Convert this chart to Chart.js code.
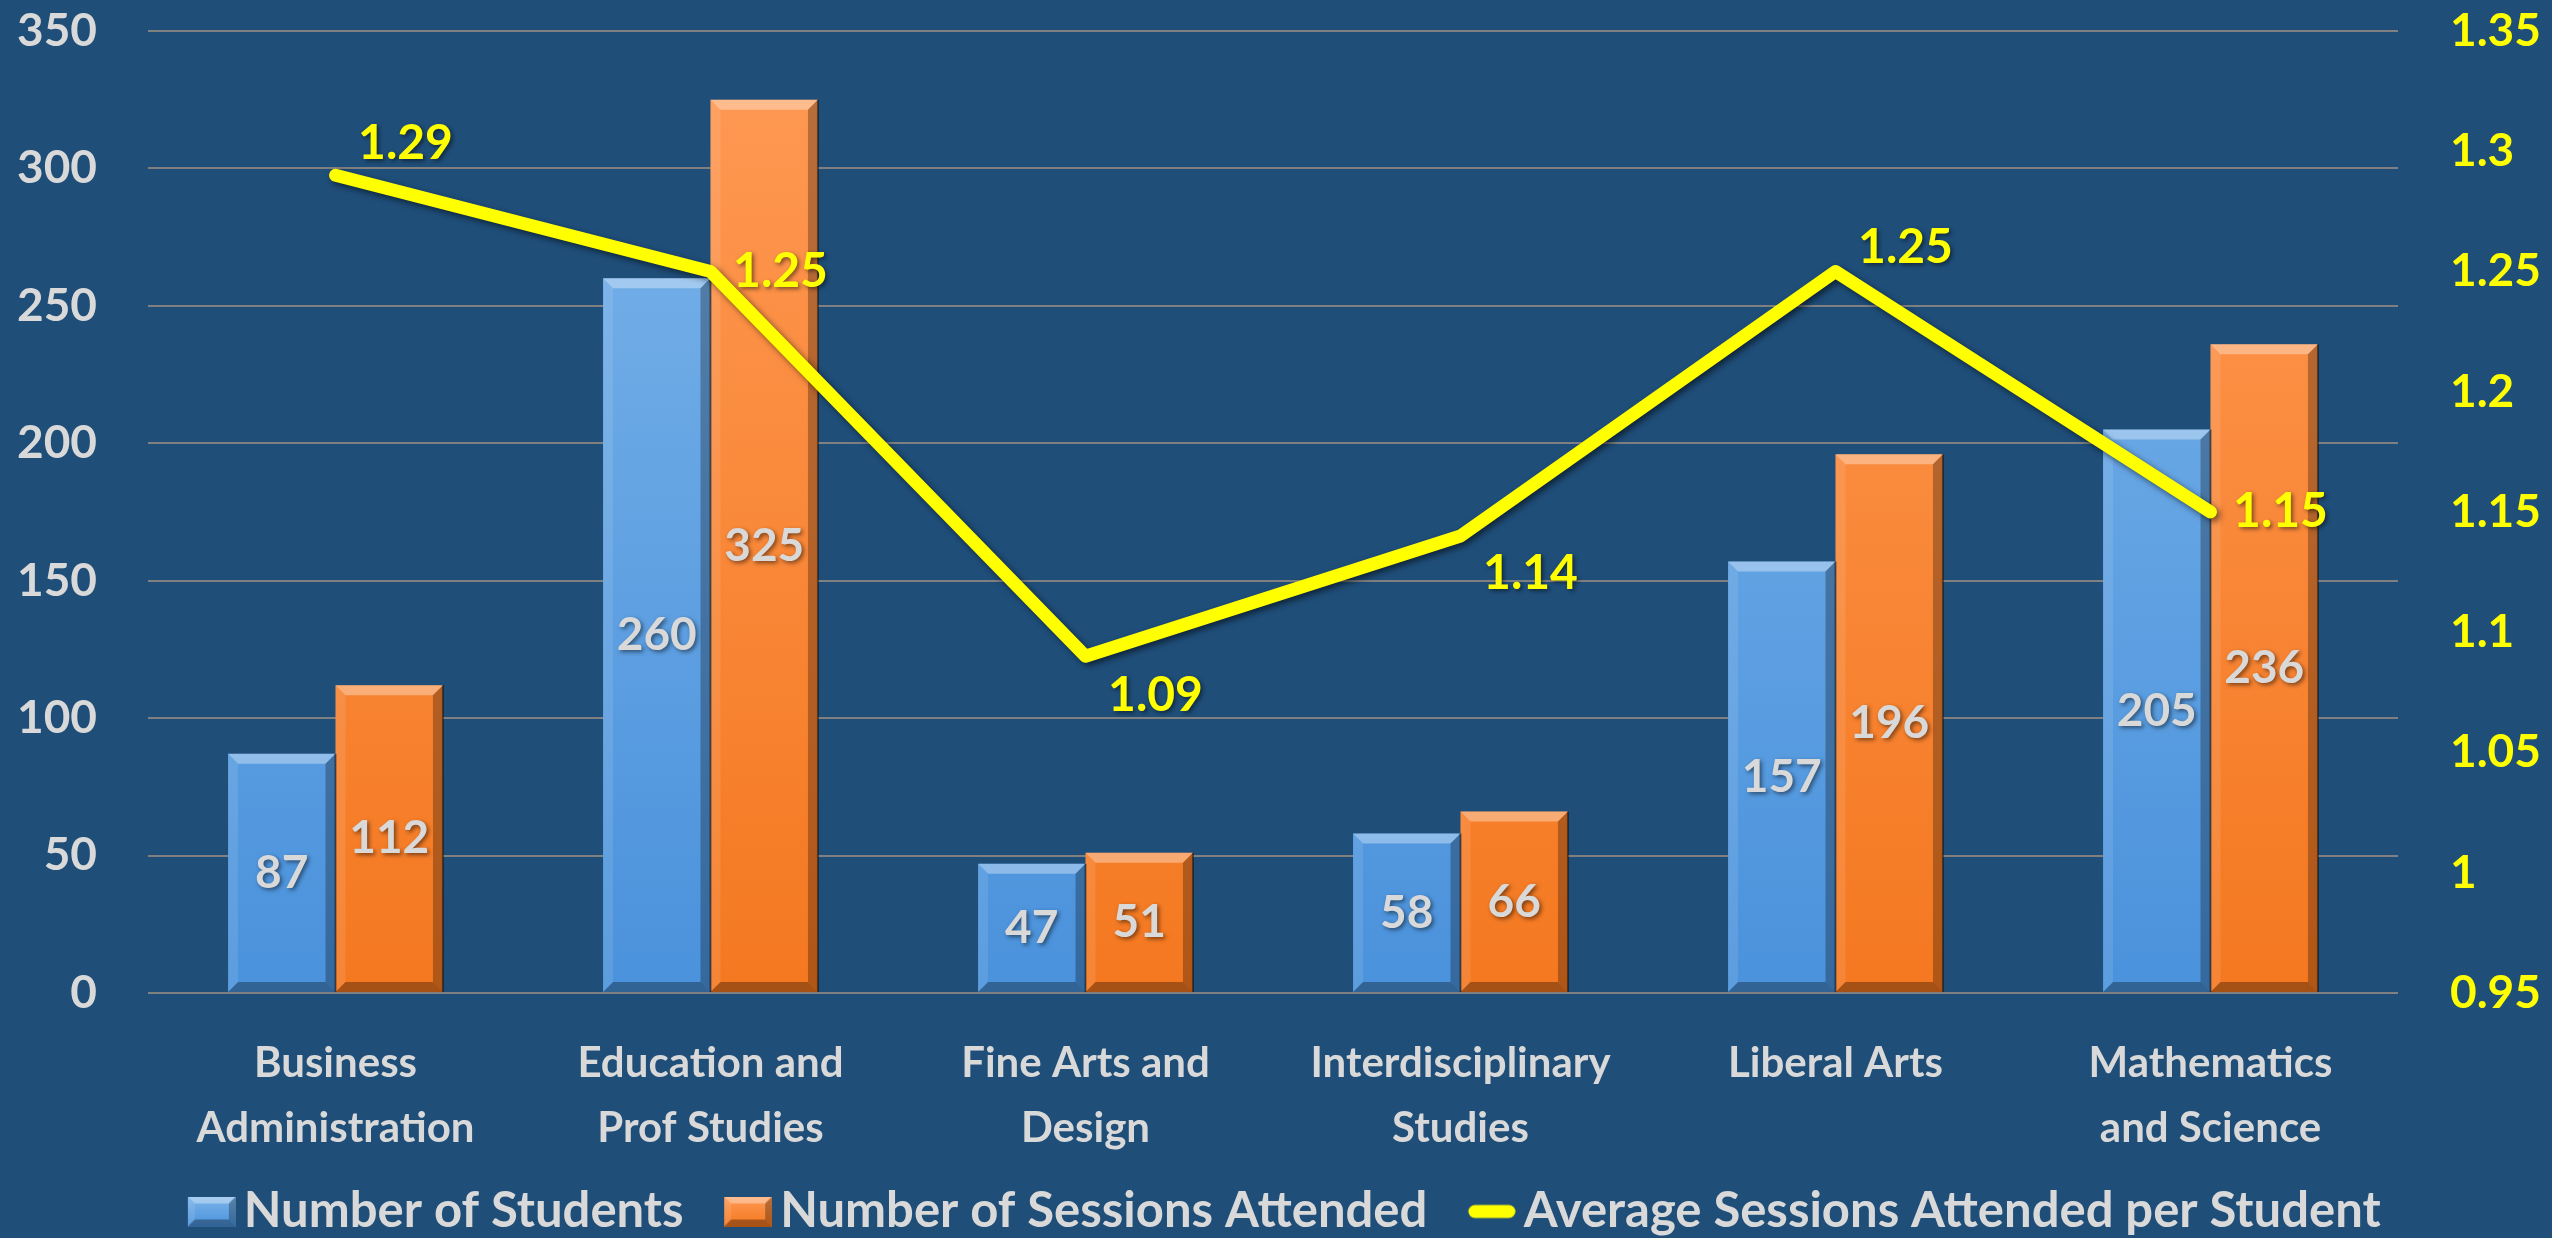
<!DOCTYPE html>
<html>
<head>
<meta charset="utf-8">
<script src="https://cdn.jsdelivr.net/npm/chart.js@4.4.0/dist/chart.umd.min.js"></script>
<style>
  html, body { margin: 0; padding: 0; background: #1F4E79; }
  #wrap { width: 2552px; height: 1238px; position: relative; }
</style>
</head>
<body>
<div id="wrap"><canvas id="grafico"></canvas></div>
<script>
// Datos del grafico
const categorias = [
  ["Business", "Administration"],
  ["Education and", "Prof Studies"],
  ["Fine Arts and", "Design"],
  ["Interdisciplinary", "Studies"],
  ["Liberal Arts"],
  ["Mathematics", "and Science"],
];
const estudiantes = [87, 260, 47, 58, 157, 205];
const sesiones = [112, 325, 51, 66, 196, 236];
const promedio = [1.29, 1.25, 1.09, 1.14, 1.25, 1.15];
const nombresSeries = [
  "Number of Students",
  "Number of Sessions Attended",
  "Average Sessions Attended per Student",
];

// Desplazamiento vertical de las etiquetas amarillas (px)
const desplazLinea = [-32, 0, 39, 37, -24, 0];

const FUENTE = "Lato";
const GRIS = "#D9D9D9";
const AMARILLO = "#FFFF00";
const TAM_LEYENDA = 49;

function degradado(ctx, arriba, abajo) {
  const area = ctx.chart.chartArea;
  if (!area) return abajo;
  const g = ctx.chart.ctx.createLinearGradient(0, area.top, 0, area.bottom);
  g.addColorStop(0, arriba);
  g.addColorStop(1, abajo);
  return g;
}

function bisel(c, l, t, r, bo, b) {
  const poly = (pts, color) => {
    c.beginPath();
    c.moveTo(pts[0][0], pts[0][1]);
    pts.slice(1).forEach((p) => c.lineTo(p[0], p[1]));
    c.closePath();
    c.fillStyle = color;
    c.fill();
  };
  poly([[l, t], [r, t], [r - b, t + b], [l + b, t + b]], "rgba(255,255,255,0.35)");
  poly([[l, t], [l + b, t + b], [l + b, bo - b], [l, bo]], "rgba(255,255,255,0.10)");
  poly([[r, t], [r, bo], [r - b, bo - b], [r - b, t + b]], "rgba(0,0,0,0.28)");
  poly([[l, bo], [r, bo], [r - b, bo - b], [l + b, bo - b]], "rgba(0,0,0,0.32)");
}

// Iconos de la leyenda (caja visible pegada al texto)
const ANCHO_CAJA = 48, HUECO = 8;
function icono(tipo) {
  const cv = document.createElement("canvas");
  cv.width = ANCHO_CAJA + TAM_LEYENDA - 2 * HUECO;
  cv.height = 30;
  const c = cv.getContext("2d");
  const x0 = cv.width - ANCHO_CAJA;
  if (tipo === "linea") {
    c.strokeStyle = AMARILLO;
    c.lineWidth = 13;
    c.lineCap = "round";
    c.beginPath();
    c.moveTo(x0 + 7, 15);
    c.lineTo(cv.width - 7, 15);
    c.stroke();
  } else {
    const g = c.createLinearGradient(0, 0, 0, 30);
    g.addColorStop(0, tipo === "azul" ? "#7DB5EA" : "#FF9A55");
    g.addColorStop(1, tipo === "azul" ? "#4A92DC" : "#F47820");
    c.fillStyle = g;
    c.fillRect(x0, 0, ANCHO_CAJA, 30);
    bisel(c, x0, 0, cv.width, 30, 7);
  }
  return cv;
}
const iconos = [icono("azul"), icono("naranja"), icono("linea")];

// Bisel de las barras + sombra de la linea
const biselPlugin = {
  id: "bisel",
  beforeDatasetDraw(chart, args) {
    if (args.meta.type === "line") {
      const c = chart.ctx;
      c.save();
      c.shadowColor = "rgba(0,0,0,0.55)";
      c.shadowBlur = 6;
      c.shadowOffsetX = 3;
      c.shadowOffsetY = 3;
    }
  },
  afterDatasetDraw(chart, args) {
    const c = chart.ctx;
    if (args.meta.type === "line") {
      c.restore();
      return;
    }
    args.meta.data.forEach((el) => {
      const { x, y, base, width } = el.getProps(["x", "y", "base", "width"], true);
      const l = x - width / 2, r = x + width / 2;
      c.save();
      bisel(c, l, y, r, base, 10);
      c.strokeStyle = "rgba(0,0,0,0.45)";
      c.lineWidth = 2;
      c.beginPath();
      c.moveTo(r, y);
      c.lineTo(r, base);
      c.stroke();
      c.restore();
    });
  },
};

// Etiquetas de datos
const etiquetasPlugin = {
  id: "etiquetas",
  afterDraw(chart) {
    const c = chart.ctx;
    c.save();
    c.textAlign = "center";
    c.textBaseline = "middle";
    c.shadowColor = "rgba(0,0,0,0.5)";
    c.shadowBlur = 4;
    c.shadowOffsetX = 2;
    c.shadowOffsetY = 2;
    // barras
    [0, 1].forEach((d) => {
      const meta = chart.getDatasetMeta(d);
      c.font = "bold 46px " + FUENTE;
      c.fillStyle = GRIS;
      meta.data.forEach((el, i) => {
        const { x, y, base } = el.getProps(["x", "y", "base"], true);
        c.fillText(chart.data.datasets[d].data[i], x, (y + base) / 2);
      });
    });
    // linea
    const metaL = chart.getDatasetMeta(2);
    c.font = "bold 48px " + FUENTE;
    c.fillStyle = AMARILLO;
    metaL.data.forEach((el, i) => {
      c.fillText(promedio[i].toFixed(2), el.x + 70, el.y + desplazLinea[i]);
    });
    c.restore();
  },
};

new Chart(document.getElementById("grafico"), {
  type: "bar",
  data: {
    labels: categorias,
    datasets: [
      {
        label: nombresSeries[0],
        data: estudiantes,
        backgroundColor: (ctx) => degradado(ctx, "#7DB5EA", "#4A92DC"),
        yAxisID: "y",
        order: 1,
        categoryPercentage: 0.573,
        barPercentage: 1.0,
      },
      {
        label: nombresSeries[1],
        data: sesiones,
        backgroundColor: (ctx) => degradado(ctx, "#FF9A55", "#F47820"),
        yAxisID: "y",
        order: 2,
        categoryPercentage: 0.573,
        barPercentage: 1.0,
      },
      {
        type: "line",
        label: nombresSeries[2],
        data: promedio,
        borderColor: AMARILLO,
        backgroundColor: AMARILLO,
        borderWidth: 13,
        borderCapStyle: "round",
        borderJoinStyle: "round",
        pointRadius: 0,
        tension: 0,
        yAxisID: "y1",
        order: 0,
      },
    ],
  },
  options: {
    responsive: true,
    maintainAspectRatio: false,
    animation: false,
    layout: { padding: { top: 0, bottom: -8, left: 0, right: 0 } },
    plugins: {
      tooltip: { enabled: false },
      legend: {
        position: "bottom",
        labels: {
          color: GRIS,
          font: { family: FUENTE, size: TAM_LEYENDA, weight: "bold" },
          usePointStyle: true,
          pointStyleWidth: ANCHO_CAJA,
          boxHeight: 30,
          padding: 24,
          sort: (a, b) => a.datasetIndex - b.datasetIndex,
          generateLabels: (chart) =>
            chart.data.datasets.map((ds, i) => ({
              text: ds.label,
              datasetIndex: i,
              fillStyle: AMARILLO,
              strokeStyle: AMARILLO,
              lineWidth: 0,
              pointStyle: iconos[i],
              fontColor: GRIS,
              hidden: false,
            })),
        },
      },
    },
    scales: {
      x: {
        grid: { display: false },
        border: { display: false },
        afterFit: (s) => {
          s.height = 170;
          s.paddingLeft = 0;
          s.paddingRight = 0;
        },
        ticks: {
          color: GRIS,
          font: { family: FUENTE, size: 42, weight: "bold", lineHeight: 1.55 },
          padding: 30,
          maxRotation: 0,
          autoSkip: false,
        },
      },
      y: {
        position: "left",
        min: 0,
        max: 350,
        afterFit: (s) => {
          s.width = 148;
          s.paddingTop = 31;
          s.paddingBottom = 0;
        },
        grid: { color: "#808080", lineWidth: 2, drawTicks: false },
        border: { display: false },
        ticks: {
          stepSize: 50,
          color: GRIS,
          padding: 51,
          font: { family: FUENTE, size: 46, weight: "bold" },
        },
      },
      y1: {
        position: "right",
        min: 0.95,
        max: 1.35,
        afterFit: (s) => {
          s.width = 154;
          s.paddingTop = 31;
          s.paddingBottom = 0;
        },
        grid: { display: false, drawTicks: false },
        border: { display: false },
        ticks: {
          stepSize: 0.05,
          color: AMARILLO,
          padding: 52,
          font: { family: FUENTE, size: 46, weight: "bold" },
          callback: (v) => String(+v.toFixed(2)),
        },
      },
    },
  },
  plugins: [biselPlugin, etiquetasPlugin],
});
</script>
</body>
</html>
